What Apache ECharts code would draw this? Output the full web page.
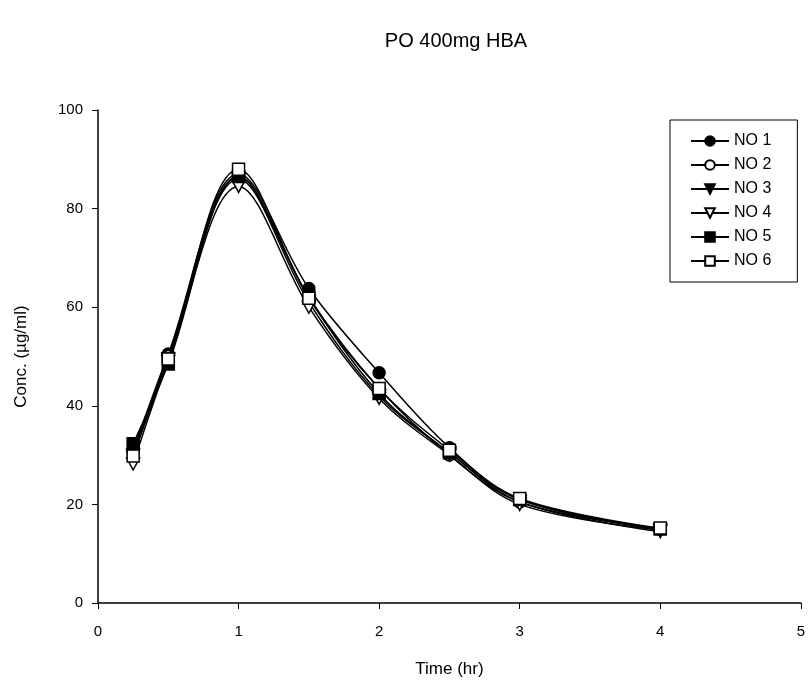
<!DOCTYPE html>
<html><head><meta charset="utf-8">
<script src="https://cdn.jsdelivr.net/npm/echarts@6/dist/echarts.min.js"></script>
<style>html,body{margin:0;padding:0;background:#fff}#c{width:808px;height:686px}</style>
</head><body><div id="c"></div>
<script>
const times = [0.25, 0.5, 1, 1.5, 2, 2.5, 3, 4];
const seriesNames = ['NO 1', 'NO 2', 'NO 3', 'NO 4', 'NO 5', 'NO 6'];
const no1 = [31.0, 50.5, 87.0, 63.8, 46.7, 31.5, 21.0, 15.0];
const no2 = [30.5, 50.0, 86.5, 62.0, 43.5, 30.0, 20.5, 15.0];
const no3 = [30.0, 49.5, 86.0, 61.0, 42.0, 30.5, 20.5, 14.5];
const no4 = [28.2, 49.0, 84.5, 60.0, 41.5, 30.0, 20.0, 14.8];
const no5 = [32.3, 48.5, 86.5, 62.0, 42.5, 30.5, 21.0, 15.0];
const no6 = [29.8, 49.5, 88.0, 61.8, 43.5, 31.0, 21.2, 15.2];
const xTicks = [0, 1, 2, 3, 4, 5];
const yTicks = [0, 20, 40, 60, 80, 100];

const allVals = [no1, no2, no3, no4, no5, no6];
const tri = 'path://M0,0 L10,0 L5,9 Z';
const styles = [
  {symbol: 'circle', fill: '#000'},
  {symbol: 'circle', fill: '#fff'},
  {symbol: tri, fill: '#000'},
  {symbol: tri, fill: '#fff'},
  {symbol: 'rect', fill: '#000'},
  {symbol: 'rect', fill: '#fff'}
];
const font = 'Liberation Sans, Arial, sans-serif';
const chart = echarts.init(document.getElementById('c'));
chart.setOption({
  animation: false,
  backgroundColor: '#fff',
  title: {text: 'PO 400mg HBA', left: 451, top: 26, textAlign: 'center',
    textStyle: {fontFamily: font, fontSize: 20, fontWeight: 'normal', color: '#000'}},
  legend: {
    orient: 'vertical', left: 670, top: 120,
    borderColor: '#000', borderWidth: 1, padding: [12, 26, 12, 20],
    itemGap: 6, itemWidth: 38, itemHeight: 12,
    textStyle: {fontFamily: font, fontSize: 16, color: '#000', lineHeight: 18},
    data: seriesNames
  },
  grid: {left: 98, right: 5, top: 110, bottom: 83},
  xAxis: {
    type: 'value', min: 0, max: 5, interval: 1,
    name: 'Time (hr)', nameLocation: 'middle', nameGap: 58,
    nameTextStyle: {fontFamily: font, fontSize: 17, color: '#000'},
    axisLine: {onZero: false, lineStyle: {color: '#000', width: 1.5}},
    axisTick: {inside: false, length: 6, lineStyle: {color: '#000'}},
    axisLabel: {fontFamily: font, fontSize: 15, color: '#000', margin: 21,
      formatter: v => xTicks.includes(v) ? String(v) : ''},
    splitLine: {show: false}
  },
  yAxis: {
    type: 'value', min: 0, max: 100, interval: 20,
    name: 'Conc. (µg/ml)', nameLocation: 'middle', nameGap: 68,
    nameTextStyle: {fontFamily: font, fontSize: 17, color: '#000'},
    axisLine: {show: true, lineStyle: {color: '#000', width: 1.5}},
    axisTick: {show: true, length: 6, lineStyle: {color: '#000'}},
    axisLabel: {fontFamily: font, fontSize: 15, color: '#000', margin: 15,
      formatter: v => yTicks.includes(v) ? String(v) : ''},
    splitLine: {show: false}
  },
  series: seriesNames.map((n, i) => ({
    name: n, type: 'line', smooth: 0.35,
    data: times.map((t, k) => [t, allVals[i][k]]),
    symbol: styles[i].symbol,
    symbolSize: styles[i].symbol === tri ? [13, 12] : 12,
    lineStyle: {color: '#000', width: 1.5},
    itemStyle: {color: styles[i].fill, borderColor: '#000', borderWidth: 1.5},
    emphasis: {disabled: true},
    z: 2 + i
  }))
});
</script></body></html>
